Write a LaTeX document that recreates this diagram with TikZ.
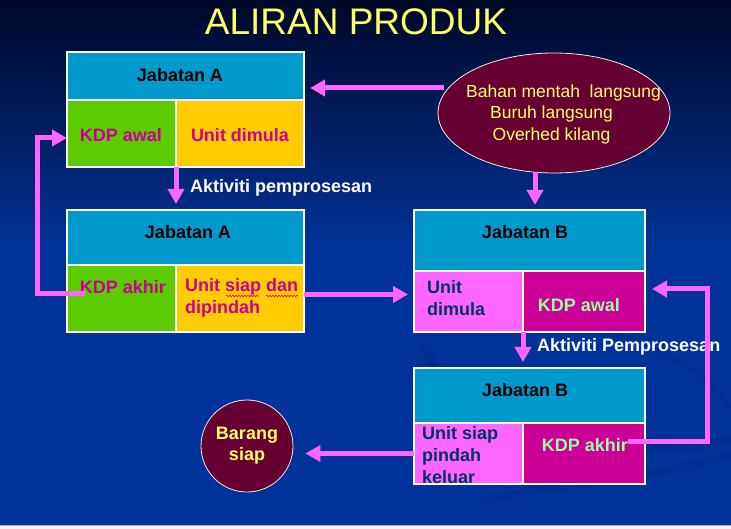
\documentclass[tikz,border=0pt]{standalone}
\usepackage{fontspec}
\setmainfont{Liberation Sans}
\usetikzlibrary{calc,shapes.geometric,arrows.meta,decorations.pathmorphing}
\definecolor{bgblue}{RGB}{0,51,153}
\definecolor{bgtop}{RGB}{0,8,40}
\definecolor{swoosh}{RGB}{0,44,138}
\definecolor{hdr}{RGB}{0,153,204}
\definecolor{cgreen}{RGB}{92,204,0}
\definecolor{cyellow}{RGB}{255,204,0}
\definecolor{cpink}{RGB}{255,102,255}
\definecolor{cmag}{RGB}{204,0,153}
\definecolor{tnavy}{RGB}{0,51,102}
\definecolor{tgreen}{RGB}{153,255,153}
\definecolor{maroon}{RGB}{102,0,51}
\definecolor{tyellow}{RGB}{255,255,102}
\definecolor{arrowc}{RGB}{255,102,255}
\begin{document}
\begin{tikzpicture}[x=1pt,y=-1pt,
  cell/.style={draw=white,line width=1.2pt,inner sep=0pt,anchor=north west,outer sep=0pt},
  bold/.style={font={\fontsize{18}{22}\selectfont\bfseries},inner sep=0pt},
  hdrtxt/.style={bold,text=black},
  arr/.style={draw=arrowc,line width=5pt,-{Triangle[length=15pt,width=16pt]}},
  lab/.style={bold,text=white,anchor=west}
]
\useasboundingbox (0,0) rectangle (731,529);
% background
\shade[top color=bgtop,bottom color=bgblue] (0,0) rectangle (731,250);
\fill[bgblue] (0,250) rectangle (731,525);
\draw[swoosh,line width=10pt,opacity=0.6] (425,345) .. controls (440,420) and (600,470) .. (731,440);
\draw[swoosh,line width=6pt,opacity=0.5] (600,330) .. controls (680,350) and (720,390) .. (731,410);
\draw[swoosh,line width=8pt,opacity=0.5] (480,500) .. controls (600,480) and (690,470) .. (731,455);
\fill[gray!10] (0,525) rectangle (731,529);
\draw[gray!60,line width=0.6pt] (0,525) -- (731,525);

% title
\node[text=tyellow,font={\fontsize{37}{40}\selectfont},inner sep=0pt] (title) at (356,22) {ALIRAN PRODUK};

% Jabatan A (top)
\node[cell,fill=hdr,minimum width=237pt,minimum height=48pt] (a1h) at (67,52) {};
\node[cell,fill=cgreen,minimum width=109pt,minimum height=67pt] (a1l) at (67,100) {};
\node[cell,fill=cyellow,minimum width=128pt,minimum height=67pt] (a1r) at (176,100) {};
\node[hdrtxt] (a1ht) at (180,75) {Jabatan A};
\node[bold,text=cmag] (a1lt) at (121,135) {KDP awal};
\node[bold,text=cmag] (a1rt) at (240,135) {Unit dimula};

% Jabatan A (bottom)
\node[cell,fill=hdr,minimum width=237pt,minimum height=55pt] (a2h) at (67,210) {};
\node[cell,fill=cgreen,minimum width=109pt,minimum height=67pt] (a2l) at (67,265) {};
\node[cell,fill=cyellow,minimum width=128pt,minimum height=67pt] (a2r) at (176,265) {};
\node[hdrtxt] (a2ht) at (188,232) {Jabatan A};
\node[bold,text=cmag] (a2lt) at (123,287) {KDP akhir};
\node[bold,text=cmag,align=left,anchor=west] (a2rt) at (185,298) {Unit siap dan\\dipindah};
\draw[red,line width=0.6pt,decorate,decoration={snake,amplitude=0.8pt,segment length=3pt}] (226,296) -- (259,296);
\draw[red,line width=0.6pt,decorate,decoration={snake,amplitude=0.8pt,segment length=3pt}] (266,296) -- (298,296);

% Jabatan B (top)
\node[cell,fill=hdr,minimum width=231pt,minimum height=61pt] (b1h) at (414,210) {};
\node[cell,fill=cpink,minimum width=109pt,minimum height=61pt] (b1l) at (414,271) {};
\node[cell,fill=cmag,minimum width=122pt,minimum height=61pt] (b1r) at (523,271) {};
\node[hdrtxt] (b1ht) at (525,232) {Jabatan B};
\node[bold,text=tnavy,align=left,anchor=west] (b1lt) at (427,298) {Unit\\dimula};
\node[bold,text=tgreen] (b1rt) at (579,305) {KDP awal};

% Jabatan B (bottom)
\node[cell,fill=hdr,minimum width=231pt,minimum height=55pt] (b2h) at (414,368) {};
\node[cell,fill=cpink,minimum width=109pt,minimum height=61pt] (b2l) at (414,423) {};
\node[cell,fill=cmag,minimum width=122pt,minimum height=61pt] (b2r) at (523,423) {};
\node[hdrtxt] (b2ht) at (525,390) {Jabatan B};
\node[bold,text=tnavy,align=left,anchor=west] (b2lt) at (422,455) {Unit siap\\pindah\\keluar};
\node[bold,text=tgreen] (b2rt) at (585,445) {KDP akhir};

% labels
\node[lab] (act1) at (190,188) {Aktiviti pemprosesan};
\node[lab] (act2) at (537,347) {Aktiviti Pemprosesan};

% source ellipse
\node[ellipse,draw=white!85!gray,line width=0.8pt,fill=maroon,minimum width=232pt,minimum height=120pt,inner sep=0pt] (ell) at (554,113) {};
\node[text=tyellow,font={\fontsize{17.5}{21.5}\selectfont},align=center,inner sep=0pt] (ellt) at (551.5,114) {\hspace*{24pt}Bahan mentah\ \ langsung\\Buruh langsung\\Overhed kilang};

% finished goods
\node[circle,draw=white!85!gray,line width=0.8pt,fill=maroon,minimum size=92pt,inner sep=0pt,text=tyellow,align=center,font={\fontsize{18}{21}\selectfont\bfseries}] (bar) at (247,446) {Barang\\siap};

% connectors
\draw[arr] ($(ell.west)+(6,-25)$) -- ($(ell.west -| a1h.east)+(6,-25)$);
\draw[arr] ($(ell.south)+(-19,-1)$) -- ($(b1h.north -| ell.south)+(-19,-5)$);
\draw[arr] (a1l.south east) -- ($(a2h.north -| a1l.south east)+(0,-6)$);
\coordinate (loopL) at (37,138);
\draw[arr] ($(a2l.west)+(18,-4.5)$) -| (loopL) -- (a1l.west |- loopL);
\draw[arr] ($(a2r.east)+(0,-4)$) -- ($(a2r.east -| b1l.west)+(-6,-4)$);
\draw[arr] (b1l.south east) -- ($(b2h.north -| b1l.south east)+(0,-6)$);
\coordinate (loopR) at (707,289);
\draw[arr] ($(b2r.east)+(-17,-12.5)$) -| (loopR) -- ($(b1r.east |- loopR)+(7,0)$);
\draw[arr] (b2l.west) -- ($(b2l.west -| bar.east)+(12,0)$);
\end{tikzpicture}
\end{document}
